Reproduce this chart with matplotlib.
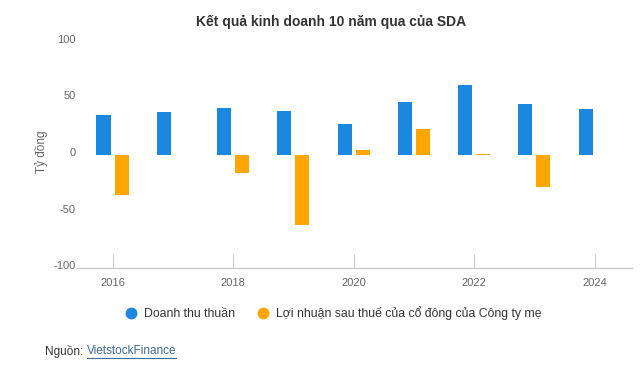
import matplotlib
matplotlib.use("Agg")
import matplotlib.pyplot as plt
import matplotlib.transforms as mtransforms
from matplotlib.lines import Line2D
import numpy as np

plt.rcParams['font.family'] = ['Liberation Sans', 'DejaVu Sans']

years = [2016, 2017, 2018, 2019, 2020, 2021, 2022, 2023, 2024]
revenue = [35.3, 37.9, 41.5, 38.8, 27.4, 46.8, 61.8, 45.0, 40.6]
profit = [-35.3, np.nan, -15.6, -61.8, 4.7, 22.9, 0.6, -27.9, np.nan]
series_names = ["Doanh thu thuần", "Lợi nhuận sau thuế của cổ đông của Công ty mẹ"]
xtick_years = [2016, 2018, 2020, 2022, 2024]
yticks = [-100, -50, 0, 50, 100]

blue = "#1a87e0"
orange = "#ffa500"
grey = "#666666"

fig = plt.figure(figsize=(6.43, 3.78), dpi=100)
ax = fig.add_axes([77/643, 109.7/378, 555/643, 226.6/378])

x = np.array(years, dtype=float)
w = 0.233
off = 0.15
ax.bar(x - off, revenue, width=w, color=blue, zorder=2)
ax.bar(x + off, profit, width=w, color=orange, zorder=2)

ax.set_xlim(2015.41, 2024.62)
ax.set_ylim(-100, 100)

for s in ['top', 'right', 'left']:
    ax.spines[s].set_visible(False)
ax.spines['bottom'].set_color('#cccccc')
ax.spines['bottom'].set_linewidth(1)

ax.set_xticks(xtick_years)
ax.set_xticklabels([str(y) for y in xtick_years])
ax.tick_params(axis='x', direction='in', length=10, color='#cccccc', labelsize=8,
               labelcolor=grey, pad=7)
ax.set_yticks(yticks)
ax.set_yticklabels([str(v) for v in yticks])
ax.tick_params(axis='y', length=0, labelsize=8, labelcolor=grey, pad=1)
shift = mtransforms.ScaledTranslation(0, 3/100, fig.dpi_scale_trans)
for lbl in ax.get_yticklabels():
    lbl.set_transform(lbl.get_transform() + shift)

fig.text(42/643, 1 - 152/378, "Tỷ đồng", rotation=90, ha='center', va='center',
         fontsize=8.5, color=grey)

fig.text(331/643, 1 - 22/378, "Kết quả kinh doanh 10 năm qua của SDA",
         ha='center', va='center', fontsize=10, fontweight='bold', color='#333333')

handles = [Line2D([0], [0], marker='o', linestyle='none', markersize=7.5,
                  markerfacecolor=c, markeredgecolor=c) for c in (blue, orange)]
fig.legend(handles, series_names, loc='center', bbox_to_anchor=(333/643, 1 - 313/378),
           ncol=2, frameon=False, fontsize=8.8, handletextpad=0.6, columnspacing=1.75,
           handlelength=1.0, labelcolor='#333333')

fig.text(45/643, 1 - 351/378, "Nguồn: ", ha='left', va='center', fontsize=8.5, color='#333333')
fig.text(87/643, 1 - 351/378, "VietstockFinance", ha='left', va='center',
         fontsize=8.5, color='#3d6a99')
fig.add_artist(Line2D([87/643, 176/643], [1 - 357.5/378, 1 - 357.5/378],
                      color='#3d6a99', linewidth=0.8, transform=fig.transFigure))

fig.savefig("out.png", dpi=100, facecolor='white')
